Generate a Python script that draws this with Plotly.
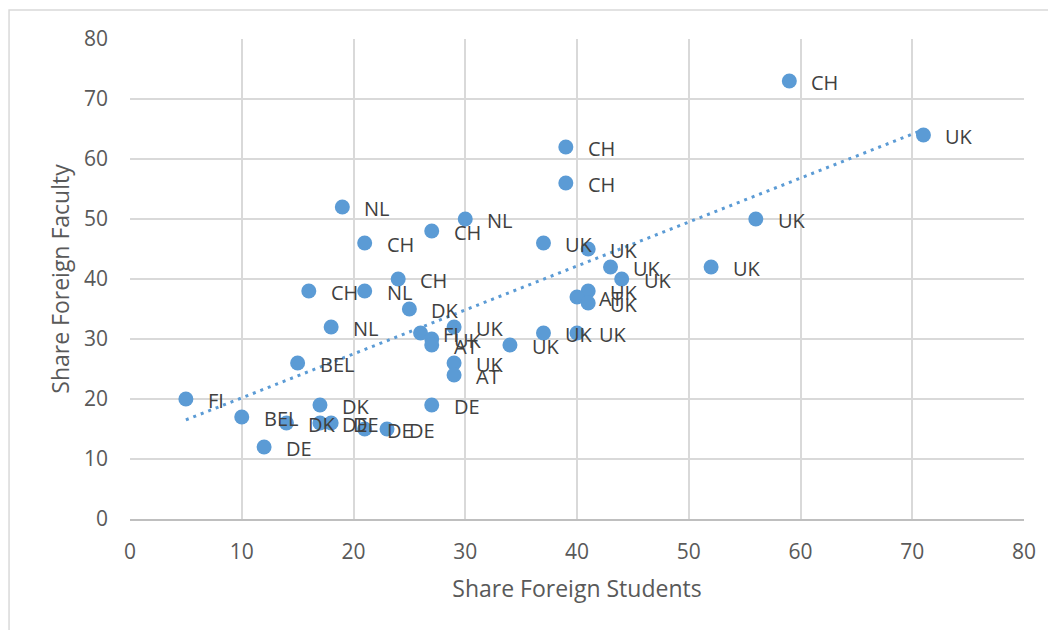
"""
Scatter of foreign faculty share vs foreign student share, with country labels and a linear trend line
"""

import numpy as np
import plotly.graph_objects as go

# Data
share_students = [59, 71, 39, 39, 19, 30, 56, 27, 21, 37, 41, 43, 52, 24, 44, 16, 21, 41, 40, 41, 25,
                  18, 29, 26, 37, 40, 27, 27, 34, 15, 29, 29, 5, 17, 27, 10, 14, 17, 18, 21, 23, 12]
share_faculty = [73, 64, 62, 56, 52, 50, 50, 48, 46, 46, 45, 42, 42, 40, 40, 38, 38, 38, 37, 36, 35,
                 32, 32, 31, 31, 31, 30, 29, 29, 26, 26, 24, 20, 19, 19, 17, 16, 16, 16, 15, 15, 12]
country = ['CH', 'UK', 'CH', 'CH', 'NL', 'NL', 'UK', 'CH', 'CH', 'UK', 'UK', 'UK', 'UK', 'CH', 'UK',
           'CH', 'NL', 'UK', 'AT', 'UK', 'DK', 'NL', 'UK', 'FI', 'UK', 'UK', 'UK', 'AT', 'UK', 'BEL',
           'UK', 'AT', 'FI', 'DK', 'DE', 'BEL', 'DK', 'DE', 'DE', 'DE', 'DE', 'DE']

x_ticks = [0, 10, 20, 30, 40, 50, 60, 70, 80]
y_ticks = [0, 10, 20, 30, 40, 50, 60, 70, 80]

BLUE = '#5b9bd5'
FONT = 'Open Sans'

# Linear trend line (least squares), drawn over the data range
slope, intercept = np.polyfit(share_students, share_faculty, 1)
trend_x = np.array([min(share_students), max(share_students)])
trend_y = slope * trend_x + intercept

fig = go.Figure()

fig.add_trace(go.Scatter(
    x=trend_x,
    y=trend_y,
    mode='lines',
    line=dict(color=BLUE, width=3, dash='3px,5px'),
    hoverinfo='skip',
    showlegend=False,
))

fig.add_trace(go.Scatter(
    x=share_students,
    y=share_faculty,
    mode='markers',
    marker=dict(color=BLUE, size=15),
    text=country,
    showlegend=False,
))

# Data labels to the right of each point
for xv, yv, label in zip(share_students, share_faculty, country):
    fig.add_annotation(
        x=xv, y=yv, text=label,
        showarrow=False,
        xanchor='left', yanchor='middle',
        xshift=20, yshift=-1,
        font=dict(family=FONT, size=20, color='#404040'),
    )

# Outer chart frame (only the top and left edges show in the picture)
fig.add_shape(
    type='rect', xref='paper', yref='paper',
    x0=-0.1353, x1=1.3, y0=-0.5, y1=1.0604,
    line=dict(color='#d9d9d9', width=1.5),
    layer='below',
)

# the page body adds an 8px offset, so margins are trimmed by that amount
fig.update_layout(
    width=1056,
    height=630,
    margin=dict(l=122, r=40, t=31, b=119),
    plot_bgcolor='white',
    paper_bgcolor='white',
    font=dict(family=FONT, color='#595959'),
    xaxis=dict(
        range=[0, 80],
        tickvals=x_ticks,
        showgrid=True,
        gridcolor='#d9d9d9',
        gridwidth=1.5,
        zeroline=False,
        showline=True,
        linecolor='#bfbfbf',
        linewidth=1.5,
        automargin=False,
        tickfont=dict(size=21, color='#595959'),
        ticklabelstandoff=13,
        title=dict(text='Share Foreign Students', font=dict(size=23, color='#595959'), standoff=17),
    ),
    yaxis=dict(
        range=[0, 80],
        tickvals=y_ticks,
        showgrid=True,
        gridcolor='#d9d9d9',
        gridwidth=1.5,
        zeroline=False,
        showline=False,
        automargin=False,
        tickfont=dict(size=21, color='#595959'),
        ticklabelstandoff=21,
        title=dict(text='Share Foreign Faculty', font=dict(size=23, color='#595959'), standoff=7),
    ),
)

fig.write_html("out.html")
